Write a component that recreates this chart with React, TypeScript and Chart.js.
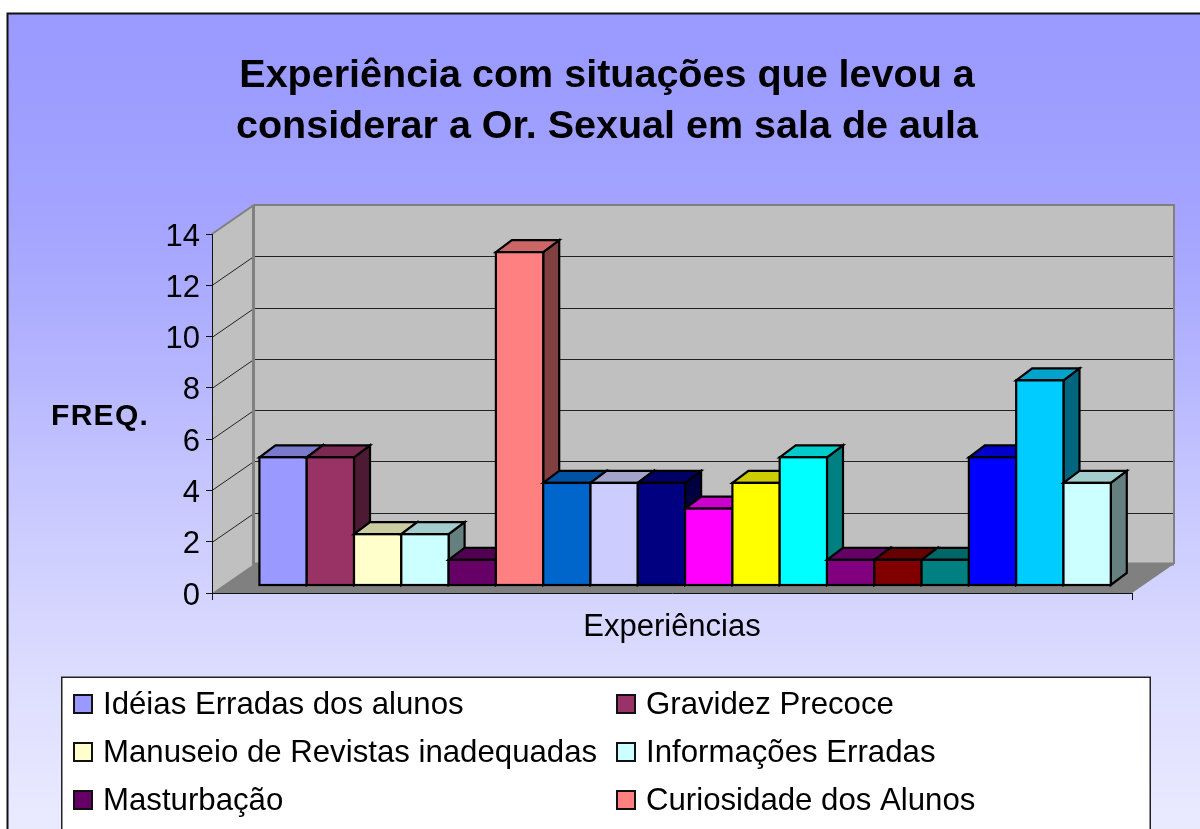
import React, { useEffect, useRef } from "react";
import { Chart, registerables } from "chart.js";

Chart.register(...registerables);

const titleLines = ["Experiência com situações que levou a", "considerar a Or. Sexual em sala de aula"];
const yAxisTitle = "FREQ.";
const categories = ["Experiências"];
const seriesLabels = [
  "Idéias Erradas dos alunos",
  "Gravidez Precoce",
  "Manuseio de Revistas inadequadas",
  "Informações Erradas",
  "Masturbação",
  "Curiosidade dos Alunos",
];
const seriesValues = [5, 5, 2, 2, 1, 13, 4, 4, 4, 3, 4, 5, 1, 1, 1, 5, 8, 4];
const seriesColors = [
  "#9999ff", "#993366", "#ffffcc", "#ccffff", "#660066", "#ff8080",
  "#0066cc", "#ccccff", "#000080", "#ff00ff", "#ffff00", "#00ffff",
  "#800080", "#800000", "#008080", "#0000ff", "#00ccff", "#ccffff",
];
const backgroundStops = [
  [14, 153], [159, 160], [265, 168], [370, 181], [476, 197],
  [582, 210], [688, 222], [794, 231], [829, 234],
];

const FONT = '"Liberation Sans", Arial, sans-serif';
const WALL_DX = 42;
const WALL_DY = -29;
const BAR_DX = 16;
const BAR_DY = -12;
const SHIFT_X = 13.1;
const SHIFT_Y = -7.5;

function shade(hex: string, f: number) {
  const n = parseInt(hex.slice(1), 16);
  const r = Math.round(((n >> 16) & 255) * f);
  const g = Math.round(((n >> 8) & 255) * f);
  const b = Math.round((n & 255) * f);
  return `rgb(${r},${g},${b})`;
}

function poly(ctx: CanvasRenderingContext2D, pts: number[][], fill: string) {
  ctx.beginPath();
  pts.forEach((p, i) => (i ? ctx.lineTo(p[0], p[1]) : ctx.moveTo(p[0], p[1])));
  ctx.closePath();
  ctx.fillStyle = fill;
  ctx.fill();
  ctx.stroke();
}

const scenePlugin = {
  id: "scene3d",
  beforeDraw(chart: any) {
    const { ctx, width, height, chartArea: a, scales } = chart;
    ctx.save();
    const g = ctx.createLinearGradient(0, 14, 0, 829);
    backgroundStops.forEach(([y, c]) => g.addColorStop((y - 14) / 815, `rgb(${c},${c},255)`));
    ctx.fillStyle = g;
    ctx.fillRect(8, 14, width - 8, height - 14);
    ctx.strokeStyle = "#111";
    ctx.lineWidth = 2;
    ctx.beginPath();
    ctx.moveTo(7.5, height);
    ctx.lineTo(7.5, 13.5);
    ctx.lineTo(width, 13.5);
    ctx.stroke();

    const L = a.left, R = a.right, T = a.top, B = a.bottom;
    // walls and floor
    ctx.fillStyle = "#c0c0c0";
    ctx.beginPath();
    ctx.moveTo(L, B);
    ctx.lineTo(L, T);
    ctx.lineTo(L + WALL_DX, T + WALL_DY);
    ctx.lineTo(R + WALL_DX, T + WALL_DY);
    ctx.lineTo(R + WALL_DX, B + WALL_DY);
    ctx.lineTo(L + WALL_DX, B + WALL_DY);
    ctx.closePath();
    ctx.fill();
    ctx.fillStyle = "#808080";
    ctx.beginPath();
    ctx.moveTo(L, B);
    ctx.lineTo(R, B);
    ctx.lineTo(R + WALL_DX, B + WALL_DY);
    ctx.lineTo(L + WALL_DX, B + WALL_DY);
    ctx.closePath();
    ctx.fill();
    // gridlines
    ctx.strokeStyle = "#222";
    ctx.lineWidth = 1;
    for (const t of scales.y.ticks) {
      if (t.value === 0 || t.value === 14) continue;
      const y = Math.round(scales.y.getPixelForValue(t.value)) + 0.5;
      ctx.beginPath();
      ctx.moveTo(L, y);
      ctx.lineTo(L + WALL_DX, y + WALL_DY);
      ctx.lineTo(R + WALL_DX, y + WALL_DY);
      ctx.stroke();
    }
    // wall outline
    ctx.strokeStyle = "#808080";
    ctx.lineWidth = 2;
    ctx.beginPath();
    ctx.moveTo(L, T);
    ctx.lineTo(L + WALL_DX, T + WALL_DY);
    ctx.lineTo(R + WALL_DX, T + WALL_DY);
    ctx.lineTo(R + WALL_DX, B + WALL_DY);
    ctx.stroke();
    ctx.lineWidth = 3;
    ctx.beginPath();
    ctx.moveTo(L + WALL_DX - 0.5, T + WALL_DY);
    ctx.lineTo(L + WALL_DX - 0.5, B + WALL_DY);
    ctx.lineTo(R + WALL_DX, B + WALL_DY);
    ctx.stroke();
    // x axis end ticks
    ctx.strokeStyle = "#111";
    ctx.lineWidth = 1;
    ctx.beginPath();
    ctx.moveTo(L + 0.5, B);
    ctx.lineTo(L + 0.5, B + 7);
    ctx.moveTo(R + 0.5, B);
    ctx.lineTo(R + 0.5, B + 7);
    ctx.stroke();
    ctx.restore();
  },
  beforeDatasetsDraw(chart: any) {
    const { ctx } = chart;
    seriesValues.forEach((_, i) => {
      const meta = chart.getDatasetMeta(i);
      const { x, y, base, width } = meta.data[0].getProps(["x", "y", "base", "width"]);
      const x0 = x - width / 2, x1 = x + width / 2;
      const color = seriesColors[i];
      ctx.save();
      ctx.translate(SHIFT_X, SHIFT_Y);
      ctx.strokeStyle = "#000";
      ctx.lineWidth = 2.2;
      ctx.lineJoin = "miter";
      poly(ctx, [[x1, y], [x1 + BAR_DX, y + BAR_DY], [x1 + BAR_DX, base + BAR_DY], [x1, base]], shade(color, 0.5));
      poly(ctx, [[x0, y], [x1, y], [x1 + BAR_DX, y + BAR_DY], [x0 + BAR_DX, y + BAR_DY]], shade(color, 0.8));
      meta.controller.draw();
      ctx.strokeRect(x0, y, width, base - y);
      ctx.restore();
    });
    return false;
  },
  afterDraw(chart: any) {
    const { ctx } = chart;
    ctx.save();
    ctx.fillStyle = "#000";
    ctx.textBaseline = "alphabetic";
    ctx.textAlign = "left";
    ctx.font = `bold 30px ${FONT}`;
    (ctx as any).letterSpacing = "1.3px";
    ctx.fillText(yAxisTitle, 51, 425);
    (ctx as any).letterSpacing = "0px";

    // legend box, cut by the picture's lower edge
    ctx.fillStyle = "#fff";
    ctx.fillRect(62, 678, 1088, 160);
    ctx.strokeStyle = "#222";
    ctx.lineWidth = 1.5;
    ctx.beginPath();
    ctx.moveTo(61.75, 829);
    ctx.lineTo(61.75, 677.25);
    ctx.lineTo(1150.25, 677.25);
    ctx.lineTo(1150.25, 829);
    ctx.stroke();
    ctx.font = `31.2px ${FONT}`;
    seriesLabels.forEach((label, i) => {
      const col = i % 2;
      const row = Math.floor(i / 2);
      const mx = col ? 617 : 74;
      const tx = col ? 646 : 103;
      const by = 714 + row * 48;
      ctx.fillStyle = seriesColors[i];
      ctx.fillRect(mx, by - 19, 18, 18);
      ctx.strokeStyle = "#111";
      ctx.lineWidth = 2;
      ctx.strokeRect(mx, by - 19, 18, 18);
      ctx.fillStyle = "#000";
      ctx.fillText(label, tx, by);
    });
    ctx.restore();
  },
};

export default function App() {
  const ref = useRef<HTMLCanvasElement>(null);
  useEffect(() => {
    const chart = new Chart(ref.current as HTMLCanvasElement, {
      type: "bar",
      data: {
        labels: [""],
        datasets: seriesValues.map((v, i) => ({
          label: seriesLabels[i] ?? "",
          data: [v],
          backgroundColor: seriesColors[i],
          borderWidth: 0,
        })),
      },
      options: {
        responsive: false,
        animation: false,
        events: [],
        categoryPercentage: 0.9254,
        barPercentage: 1,
        layout: { autoPadding: false, padding: { left: 82, right: 68, top: 0, bottom: 0 } },
        plugins: {
          legend: { display: false },
          tooltip: { enabled: false },
          title: {
            display: true,
            text: titleLines,
            color: "#000",
            font: { family: FONT, size: 39.5, weight: "bold", lineHeight: 1.3 },
            padding: { top: 50, bottom: 81.3 },
          },
        },
        scales: {
          x: {
            grid: { display: true, drawOnChartArea: false, drawTicks: false },
            border: { display: true, color: "#111", width: 1 },
            ticks: { display: false },
            title: {
              display: true,
              text: categories[0],
              color: "#000",
              font: { family: FONT, size: 31, lineHeight: 1 },
              padding: { top: 0, bottom: 186 },
            },
            afterFit: (s: any) => { s.height = 236; },
          },
          y: {
            min: 0,
            max: 14,
            grid: { display: true, drawOnChartArea: false, drawTicks: true, tickLength: 6, color: "#111" },
            border: { display: true, color: "#111", width: 1 },
            ticks: { stepSize: 2, padding: 6, labelOffset: 3, color: "#000", font: { family: FONT, size: 31 } },
            afterFit: (s: any) => { s.width = 130; },
          },
        },
      } as any,
      plugins: [scenePlugin as any],
    });
    return () => chart.destroy();
  }, []);
  return (
    <canvas
      ref={ref}
      width={1200}
      height={829}
      style={{ position: "absolute", left: 0, top: 0, display: "block" }}
    />
  );
}
